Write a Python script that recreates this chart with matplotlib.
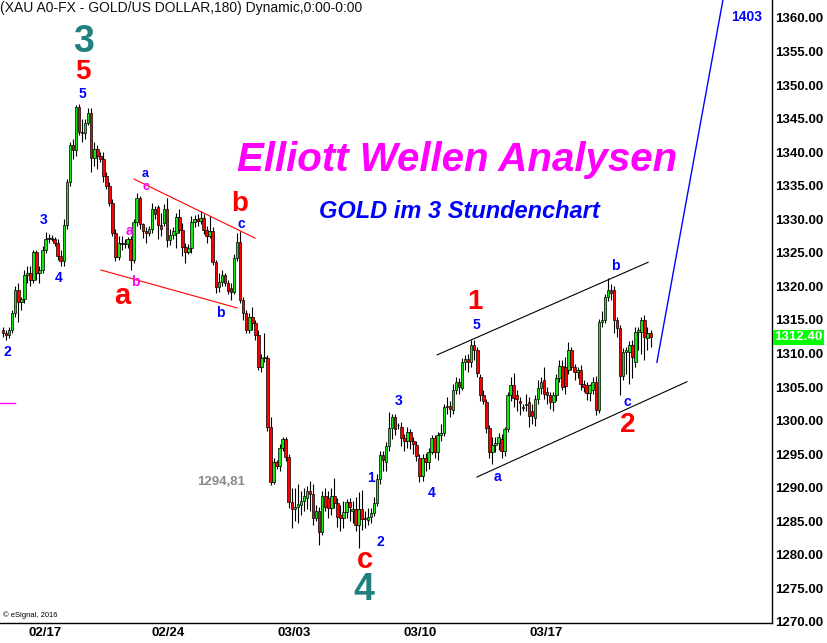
import numpy as np
import matplotlib
matplotlib.use("Agg")
import matplotlib.pyplot as plt

plt.rcParams['font.family'] = ['Liberation Sans', 'DejaVu Sans']

# 3-hour gold candles (02/16 .. 03/21)
opens = [
    1313.5, 1313.0, 1312.8, 1313.5, 1316.0, 1319.5, 1317.7, 1318.2, 1321.7, 1322.0,
    1321.0, 1325.1, 1322.0, 1322.5, 1325.5, 1327.0, 1327.2, 1327.0, 1326.5, 1324.5,
    1323.8, 1329.2, 1335.5, 1341.0, 1340.3, 1346.8, 1343.0, 1342.8, 1344.3, 1345.8,
    1339.2, 1340.5, 1339.5, 1339.0, 1336.5, 1335.0, 1332.5, 1328.0, 1324.4, 1326.5,
    1326.3, 1326.3, 1327.0, 1324.0, 1329.6, 1333.2, 1329.3, 1328.2, 1328.0, 1328.5,
    1331.6, 1331.8, 1329.2, 1329.5, 1331.5, 1326.9, 1327.7, 1328.0, 1330.3, 1328.4,
    1325.9, 1325.2, 1325.8, 1329.6, 1330.0, 1329.8, 1330.2, 1328.4, 1327.5, 1328.3,
    1323.6, 1319.9, 1320.7, 1321.7, 1320.5, 1319.8, 1319.2, 1324.2, 1326.6, 1318.0,
    1316.1, 1313.5, 1315.5, 1314.5, 1312.8, 1308.0, 1309.3, 1309.3, 1299.1, 1290.9,
    1293.8, 1293.2, 1296.0, 1297.2, 1294.6, 1287.9, 1286.9, 1287.1, 1287.5, 1288.0,
    1288.5, 1289.5, 1289.0, 1285.5, 1286.5, 1283.4, 1288.8, 1288.5, 1287.0, 1288.8,
    1287.8, 1286.0, 1285.5, 1286.4, 1287.9, 1286.5, 1286.8, 1284.4, 1286.9, 1285.5,
    1285.2, 1285.6, 1286.2, 1287.8, 1291.3, 1294.9, 1293.8, 1296.2, 1298.9, 1300.5,
    1299.3, 1299.0, 1297.4, 1297.0, 1298.3, 1297.0, 1296.4, 1294.4, 1291.8, 1294.4,
    1293.8, 1295.3, 1297.4, 1295.4, 1297.9, 1298.1, 1302.0, 1302.2, 1301.6, 1304.6,
    1305.7, 1304.9, 1308.7, 1309.2, 1308.8, 1311.3, 1310.5, 1306.5, 1303.8, 1302.8,
    1298.9, 1295.3, 1296.4, 1296.6, 1297.3, 1295.5, 1298.7, 1303.8, 1305.3, 1303.8,
    1303.0, 1302.0, 1302.3, 1302.8, 1301.5, 1300.4, 1303.3, 1304.8, 1306.0, 1304.2,
    1303.8, 1302.8, 1303.8, 1306.3, 1308.2, 1308.0, 1307.5, 1310.5, 1308.0, 1307.2,
    1307.6, 1305.4, 1305.3, 1304.1, 1304.5, 1305.8, 1301.6, 1314.7, 1315.0, 1318.4,
    1319.5, 1319.4, 1315.0, 1313.8, 1306.7, 1310.2, 1310.2, 1311.2, 1308.7, 1313.2,
    1313.2, 1315.0, 1312.3, 1313.0,
]
highs = [
    1314.0, 1313.5, 1314.0, 1316.5, 1320.0, 1320.5, 1318.5, 1322.5, 1323.0, 1323.0,
    1325.5, 1325.5, 1323.0, 1326.0, 1328.1, 1327.8, 1327.6, 1327.3, 1327.0, 1325.5,
    1330.0, 1336.0, 1341.5, 1342.0, 1347.0, 1347.2, 1345.0, 1345.0, 1346.6, 1346.6,
    1341.5, 1341.0, 1340.0, 1340.0, 1337.0, 1335.5, 1333.0, 1328.5, 1327.5, 1327.5,
    1327.0, 1327.3, 1327.5, 1330.0, 1333.9, 1333.5, 1329.5, 1328.8, 1329.0, 1332.5,
    1332.0, 1332.2, 1331.0, 1332.3, 1333.2, 1328.5, 1328.8, 1331.0, 1331.5, 1329.5,
    1326.5, 1326.3, 1330.5, 1330.7, 1330.8, 1331.2, 1330.8, 1329.0, 1330.5, 1328.8,
    1324.0, 1322.0, 1322.5, 1322.0, 1321.0, 1320.5, 1324.8, 1328.0, 1328.2, 1318.5,
    1316.5, 1316.0, 1317.0, 1315.0, 1313.5, 1310.0, 1313.0, 1309.8, 1300.5, 1294.5,
    1294.2, 1296.5, 1297.6, 1297.6, 1295.0, 1290.0, 1290.0, 1290.5, 1289.5, 1290.0,
    1290.3, 1291.0, 1290.5, 1287.5, 1287.2, 1289.5, 1290.0, 1289.5, 1290.0, 1291.5,
    1288.5, 1287.5, 1288.0, 1288.3, 1288.5, 1288.0, 1288.6, 1289.3, 1289.7, 1286.5,
    1287.0, 1287.0, 1288.6, 1292.0, 1295.5, 1295.5, 1296.8, 1301.3, 1301.0, 1301.0,
    1299.6, 1299.8, 1298.0, 1299.0, 1298.8, 1297.5, 1297.0, 1295.0, 1295.0, 1295.2,
    1296.0, 1297.8, 1297.8, 1298.3, 1299.5, 1302.5, 1303.5, 1303.0, 1305.5, 1306.5,
    1306.3, 1309.3, 1309.8, 1310.0, 1312.0, 1312.0, 1311.0, 1307.0, 1304.5, 1303.2,
    1299.3, 1297.5, 1297.5, 1298.2, 1298.0, 1299.0, 1304.3, 1306.5, 1307.1, 1304.5,
    1303.5, 1302.5, 1304.0, 1303.5, 1302.5, 1303.8, 1306.0, 1306.5, 1308.0, 1305.0,
    1304.2, 1304.3, 1307.0, 1309.0, 1309.0, 1309.5, 1311.7, 1311.0, 1308.5, 1308.0,
    1308.3, 1306.0, 1305.8, 1305.5, 1306.5, 1306.6, 1315.2, 1316.3, 1318.8, 1321.3,
    1320.3, 1320.0, 1315.5, 1314.2, 1310.8, 1311.0, 1311.8, 1312.0, 1314.0, 1314.0,
    1315.5, 1315.8, 1314.0, 1313.5,
]
lows = [
    1312.5, 1312.0, 1312.3, 1313.0, 1315.5, 1314.7, 1316.5, 1317.5, 1320.5, 1320.0,
    1320.5, 1321.0, 1320.5, 1322.0, 1325.0, 1326.5, 1326.8, 1326.0, 1324.0, 1323.0,
    1323.0, 1328.5, 1335.0, 1339.0, 1339.5, 1342.5, 1341.5, 1342.0, 1344.0, 1337.0,
    1338.0, 1337.5, 1338.5, 1335.5, 1334.5, 1332.0, 1327.5, 1323.8, 1324.0, 1325.5,
    1325.8, 1325.8, 1322.5, 1323.5, 1329.0, 1328.5, 1327.2, 1326.5, 1327.5, 1328.0,
    1330.0, 1327.0, 1327.5, 1329.0, 1325.9, 1326.2, 1327.0, 1325.8, 1328.0, 1324.5,
    1323.5, 1324.8, 1325.0, 1328.8, 1329.0, 1329.3, 1327.8, 1326.5, 1327.2, 1323.2,
    1319.0, 1319.2, 1320.0, 1320.0, 1318.8, 1318.0, 1318.8, 1323.8, 1317.5, 1315.0,
    1313.0, 1313.0, 1313.5, 1312.0, 1307.5, 1307.3, 1308.8, 1298.5, 1290.4, 1290.5,
    1292.8, 1292.5, 1295.5, 1294.0, 1287.0, 1284.0, 1285.0, 1284.8, 1286.0, 1286.5,
    1286.8, 1286.5, 1284.5, 1285.0, 1281.5, 1283.0, 1286.5, 1285.5, 1286.0, 1287.0,
    1284.2, 1283.5, 1284.0, 1285.5, 1285.0, 1284.7, 1283.5, 1281.0, 1283.7, 1284.0,
    1284.5, 1284.8, 1285.8, 1287.3, 1290.5, 1292.5, 1292.5, 1295.5, 1297.3, 1297.8,
    1298.8, 1296.2, 1295.5, 1296.0, 1295.8, 1295.0, 1294.0, 1290.9, 1291.0, 1292.5,
    1292.8, 1295.0, 1294.5, 1294.2, 1297.0, 1297.7, 1301.0, 1300.5, 1301.0, 1304.0,
    1304.0, 1304.5, 1307.5, 1307.3, 1308.0, 1309.0, 1306.5, 1303.0, 1302.5, 1298.2,
    1294.5, 1293.6, 1295.3, 1295.6, 1294.5, 1294.8, 1298.3, 1303.0, 1302.0, 1301.5,
    1300.8, 1301.5, 1301.5, 1299.0, 1299.5, 1299.2, 1302.5, 1304.0, 1303.3, 1302.5,
    1301.8, 1301.5, 1303.0, 1305.8, 1304.5, 1304.0, 1307.0, 1307.5, 1306.0, 1306.4,
    1304.5, 1304.2, 1303.1, 1303.0, 1304.0, 1300.9, 1301.2, 1314.0, 1314.5, 1317.8,
    1318.0, 1313.0, 1312.5, 1303.8, 1306.0, 1307.0, 1305.5, 1306.3, 1308.0, 1310.5,
    1310.0, 1309.0, 1310.5, 1311.0,
]
closes = [
    1313.0, 1312.8, 1313.5, 1316.0, 1319.5, 1317.7, 1318.2, 1321.7, 1322.0, 1321.0,
    1325.1, 1322.0, 1322.5, 1325.5, 1327.0, 1327.2, 1327.0, 1326.5, 1324.5, 1323.8,
    1329.2, 1335.5, 1341.0, 1340.3, 1346.8, 1343.0, 1342.8, 1344.3, 1345.8, 1339.2,
    1340.5, 1339.5, 1339.0, 1336.5, 1335.0, 1332.5, 1328.0, 1324.4, 1326.5, 1326.3,
    1326.5, 1327.0, 1324.0, 1329.6, 1333.2, 1329.3, 1328.2, 1328.0, 1328.5, 1331.6,
    1330.8, 1329.2, 1328.5, 1331.5, 1326.9, 1327.7, 1328.3, 1330.4, 1328.4, 1325.9,
    1325.2, 1325.8, 1329.6, 1330.0, 1329.8, 1330.2, 1328.4, 1327.5, 1328.3, 1323.6,
    1319.9, 1320.7, 1321.7, 1320.5, 1319.3, 1319.2, 1324.2, 1326.6, 1318.0, 1316.1,
    1313.5, 1315.5, 1314.5, 1312.8, 1308.0, 1309.3, 1309.4, 1299.1, 1290.9, 1293.8,
    1293.2, 1296.0, 1297.2, 1294.6, 1287.9, 1286.9, 1287.1, 1287.6, 1288.0, 1288.8,
    1289.5, 1289.0, 1285.5, 1286.5, 1283.4, 1288.8, 1287.2, 1287.0, 1288.8, 1287.8,
    1285.7, 1285.5, 1286.4, 1287.9, 1287.2, 1286.8, 1284.5, 1286.9, 1285.3, 1285.3,
    1285.6, 1286.2, 1287.8, 1291.3, 1294.9, 1294.2, 1296.2, 1298.9, 1300.5, 1298.7,
    1299.4, 1297.4, 1297.0, 1298.3, 1297.0, 1296.5, 1294.8, 1291.8, 1294.4, 1293.8,
    1295.3, 1297.4, 1295.4, 1297.9, 1298.1, 1302.0, 1302.2, 1301.8, 1304.6, 1305.7,
    1305.0, 1308.7, 1309.2, 1308.8, 1311.3, 1310.5, 1307.1, 1303.8, 1303.0, 1298.9,
    1295.3, 1296.4, 1296.6, 1297.5, 1295.5, 1298.7, 1303.8, 1305.3, 1303.4, 1303.2,
    1302.7, 1301.9, 1302.3, 1300.7, 1300.7, 1303.3, 1304.8, 1305.8, 1304.0, 1303.8,
    1302.8, 1303.8, 1306.3, 1308.2, 1305.0, 1305.2, 1310.5, 1308.0, 1307.2, 1307.6,
    1305.4, 1305.0, 1304.1, 1305.3, 1305.8, 1301.6, 1314.7, 1315.0, 1318.4, 1319.5,
    1319.0, 1315.0, 1313.8, 1306.7, 1310.2, 1310.5, 1311.2, 1309.5, 1313.2, 1313.5,
    1315.0, 1312.5, 1313.0, 1312.4,
]

date_labels = ['02/17', '02/24', '03/03', '03/10', '03/17']
date_bars = [13.8, 54.3, 95.7, 137.2, 178.6]
last_price = 1312.40

o = np.array(opens)
h = np.array(highs)
l = np.array(lows)
c = np.array(closes)
idx = np.arange(len(c))
up = c >= o

fig = plt.figure(figsize=(8.28, 6.43), dpi=100)
ax = fig.add_axes([0.0, 20 / 643, 772 / 828, 623 / 643])

ax.vlines(idx, l, h, color='black', lw=0.8, zorder=2)
body = np.maximum(np.abs(c - o), 0.12)
ax.bar(idx[up], body[up], bottom=o[up], width=0.85, color='#10e810',
       edgecolor='black', linewidth=0.5, zorder=3)
ax.bar(idx[~up], body[~up], bottom=c[~up], width=0.85, color='#ff0000',
       edgecolor='black', linewidth=0.5, zorder=3)

# trend / channel lines
ax.plot([43.1, 82.9], [1336.0, 1327.2], color='red', lw=0.8, zorder=4)
ax.plot([32.2, 77.0], [1322.45, 1316.8], color='red', lw=0.8, zorder=4)
ax.plot([142.8, 212.2], [1309.8, 1323.6], color='black', lw=0.8, zorder=4)
ax.plot([155.9, 225.0], [1291.6, 1305.8], color='black', lw=0.8, zorder=4)
ax.plot([215.1, 240.0], [1308.7, 1370.6], color='#0000ff', lw=1.0, zorder=4)
ax.plot([-1, 3.9], [1302.6, 1302.6], color='#ff00ff', lw=1.0, zorder=4)

# wave labels: (text, bar, price, colour, size)
labels = [
    ('3', 26.4, 1356.4, '#208080', 27), ('5', 26.4, 1352.0, 'red', 20),
    ('5', 26.1, 1348.7, 'blue', 10), ('3', 13.2, 1329.9, 'blue', 10),
    ('4', 18.2, 1321.3, 'blue', 10), ('2', 1.3, 1310.2, 'blue', 10),
    ('a', 46.9, 1336.7, 'blue', 9), ('c', 46.9, 1334.8, '#ff00ff', 9),
    ('a', 41.6, 1328.3, '#ff00ff', 10), ('b', 43.6, 1320.7, '#ff00ff', 10),
    ('a', 39.1, 1318.6, 'red', 21), ('b', 77.9, 1332.3, 'red', 20),
    ('c', 78.5, 1329.3, 'blue', 10), ('b', 71.6, 1316.0, 'blue', 10),
    ('1', 121.1, 1291.5, 'blue', 10), ('2', 124.1, 1281.9, 'blue', 10),
    ('c', 119.1, 1279.2, 'red', 21), ('4', 118.8, 1274.8, '#208080', 27),
    ('3', 130.0, 1302.9, 'blue', 10), ('4', 140.9, 1289.2, 'blue', 10),
    ('1', 155.1, 1317.7, 'red', 20), ('5', 155.8, 1314.3, 'blue', 10),
    ('a', 162.7, 1291.6, 'blue', 10), ('b', 201.3, 1323.0, 'blue', 10),
    ('c', 205.3, 1302.8, 'blue', 10), ('2', 205.6, 1299.3, 'red', 20),
    ('1403', 244.6, 1360.1, 'blue', 10),
]
for txt, bx, py, col, size in labels:
    ax.text(bx, py, txt, color=col, fontsize=size, fontweight='bold',
            ha='center', va='center', zorder=5)

ax.text(71.6, 1290.9, '1294,81', color='#8a8a8a', fontsize=9.5,
        fontweight='bold', ha='center', va='center', zorder=5)
ax.text(149.5, 1338.8, 'Elliott Wellen Analysen', color='#ff00ff',
        fontsize=29, fontweight='bold', style='italic', ha='center',
        va='center', zorder=5)
ax.text(150.2, 1331.1, 'GOLD im 3 Stundenchart', color='#0000ff',
        fontsize=17, fontweight='bold', style='italic', ha='center',
        va='center', zorder=5)

ax.set_xlim(-0.99, 252.96)
ax.set_ylim(1269.85, 1362.68)

ax.yaxis.tick_right()
ax.set_yticks(np.arange(1270, 1361, 5))
ax.set_yticklabels([f'{v:.2f}' for v in np.arange(1270, 1361, 5)])
ax.set_xticks(date_bars)
ax.set_xticklabels(date_labels)
ax.tick_params(axis='both', length=0, labelsize=9.5)
ax.tick_params(axis='y', pad=2)
ax.tick_params(axis='x', pad=3)
for lab in ax.get_yticklabels() + ax.get_xticklabels():
    lab.set_fontweight('bold')

for side in ['left', 'top']:
    ax.spines[side].set_visible(False)
for side in ['right', 'bottom']:
    ax.spines[side].set_linewidth(1.0)

ax.text(1.003, last_price, f'{last_price:.2f}', transform=ax.get_yaxis_transform(),
        color='white', fontsize=9.5, fontweight='bold', ha='left', va='center',
        bbox=dict(boxstyle='square,pad=0.1', fc='#00ff00', ec='none'),
        clip_on=False)

fig.text(0.0, 1 - 8 / 643, '(XAU A0-FX - GOLD/US DOLLAR,180) Dynamic,0:00-0:00',
         fontsize=10, ha='left', va='center', color='#101010')
fig.text(3 / 828, 1 - 615 / 643, '\u00a9 eSignal, 2016', fontsize=5.5,
         ha='left', va='center')

fig.savefig('out.png', dpi=100)
